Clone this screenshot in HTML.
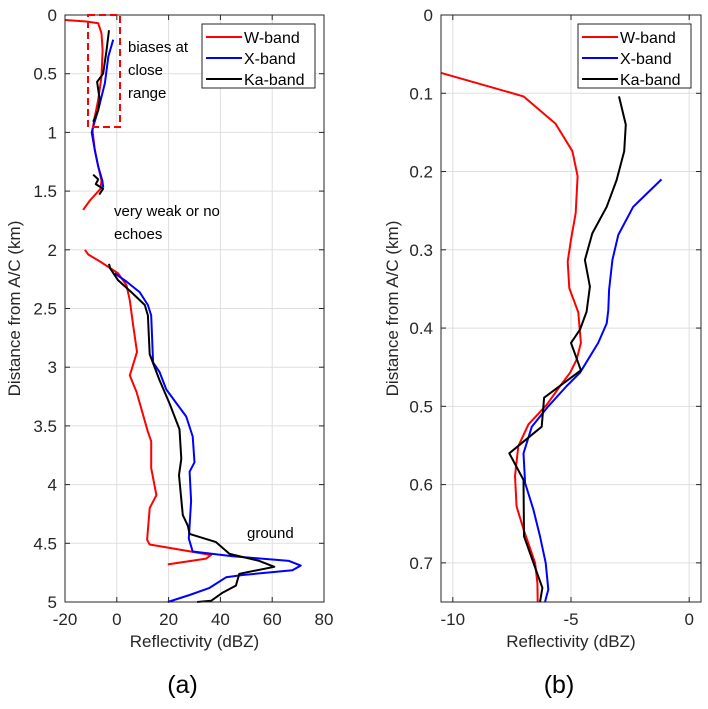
<!DOCTYPE html>
<html><head><meta charset="utf-8"><style>
body{margin:0;background:#fff;}
svg{font-family:"Liberation Sans","DejaVu Sans",sans-serif;}
</style></head><body>
<svg id="c" width="708" height="704" viewBox="0 0 708 704" xmlns="http://www.w3.org/2000/svg"></svg>
<script>
// Panel (a) data: [depth km, dBZ]
const aW1=[[0.043,-20],[0.055,-11.7],[0.07,-7.2],[0.156,-5.9],[0.298,-5.5],[0.525,-5.9],[0.724,-7.2],[0.866,-8.5],[0.98,-9.4],[1.15,-8.5],[1.29,-7.2],[1.41,-5.9],[1.48,-6.3],[1.58,-10.4],[1.66,-13]];
const aW2=[[2.0,-12.3],[2.04,-11],[2.1,-6.5],[2.2,0.5],[2.3,3.7],[2.43,5],[2.64,6.3],[2.87,7.8],[3.07,5],[3.21,7.6],[3.55,12],[3.63,13.3],[3.86,13.3],[4.09,15.3],[4.2,12.7],[4.47,11.7],[4.51,12.7],[4.6,36.4],[4.63,34.5],[4.68,19.7]];
const aX1=[[0.21,-1.4],[0.355,-3.3],[0.58,-4.6],[0.81,-7.2],[0.95,-9.1],[1.0,-9.7],[1.15,-8.5],[1.29,-7.2],[1.41,-5.6],[1.47,-5.2]];
const aX2=[[2.2,-0.8],[2.27,3.7],[2.36,8.8],[2.47,12],[2.56,13.3],[2.96,14],[3.04,16.5],[3.19,19.1],[3.42,26.8],[3.59,29.3],[3.81,30],[3.89,28.1],[4.14,28.7],[4.46,27.8],[4.57,29.3],[4.61,44.7],[4.65,66.5],[4.69,71],[4.73,67.8],[4.77,48.6],[4.79,42.2],[4.88,35.8],[4.94,28.1],[5.0,19.7]];
const aK1=[[0.13,-3],[0.31,-4],[0.5,-5.3],[0.57,-7.6],[0.72,-6.6],[0.81,-7.2],[0.91,-9.1]];
const aK2=[[1.36,-9.1],[1.4,-7.2],[1.44,-8.1],[1.48,-5.3],[1.53,-6.8]];
const aK3=[[2.12,-3],[2.16,-2.5],[2.26,0.5],[2.36,5.6],[2.47,10.8],[2.56,12],[2.89,12.7],[3.11,16.5],[3.31,20.4],[3.53,24.2],[3.78,24.9],[3.92,24],[4.26,25.5],[4.35,27.4],[4.42,28.1],[4.49,38.3],[4.59,43.5],[4.65,55],[4.7,60.8],[4.76,47.3],[4.86,46],[4.92,40.9],[4.99,36.4],[5.0,31]];
// Panel (b) data
const bW=[[0.074,-10.49],[0.104,-7.01],[0.139,-5.65],[0.174,-4.94],[0.206,-4.72],[0.253,-4.8],[0.287,-5.0],[0.315,-5.14],[0.349,-5.07],[0.38,-4.69],[0.419,-4.58],[0.44,-4.76],[0.457,-5.04],[0.474,-5.46],[0.498,-6.03],[0.523,-6.8],[0.551,-7.23],[0.589,-7.37],[0.628,-7.3],[0.657,-7.01],[0.7,-6.52],[0.726,-6.42],[0.75,-6.41]];
const bX=[[0.21,-1.17],[0.245,-2.37],[0.281,-3.0],[0.313,-3.25],[0.351,-3.39],[0.377,-3.42],[0.394,-3.49],[0.419,-3.85],[0.457,-4.62],[0.474,-5.18],[0.5,-5.96],[0.526,-6.66],[0.56,-7.01],[0.598,-6.94],[0.632,-6.59],[0.666,-6.31],[0.7,-6.07],[0.734,-5.96],[0.75,-6.1]];
const bK=[[0.104,-2.97],[0.14,-2.68],[0.174,-2.75],[0.211,-3.07],[0.245,-3.49],[0.279,-4.1],[0.313,-4.41],[0.347,-4.2],[0.379,-4.34],[0.402,-4.62],[0.419,-5.0],[0.454,-4.58],[0.489,-6.14],[0.526,-6.24],[0.56,-7.61],[0.594,-7.01],[0.666,-6.99],[0.732,-6.21],[0.75,-6.31]];
const aXTicks=[-20,0,20,40,60,80];
const aYTicks=[0,0.5,1,1.5,2,2.5,3,3.5,4,4.5,5];
const bXTicks=[-10,-5,0];
const bYTicks=[0,0.1,0.2,0.3,0.4,0.5,0.6,0.7];
const legendLabels=["W-band","X-band","Ka-band"];
const colors=["#ff0000","#0000ff","#000000"];

const NS="http://www.w3.org/2000/svg";
const svg=document.getElementById('c');
function el(t,a,p){const e=document.createElementNS(NS,t);for(const k in a)e.setAttribute(k,a[k]);(p||svg).appendChild(e);return e;}
function txt(s,a,name){const e=el('text',a);e.textContent=s;


return e;}

function panel(P){
  const sx=v=>P.L+(v-P.x0)/(P.x1-P.x0)*(P.R-P.L);
  const sy=v=>P.T+(v-P.y0)/(P.y1-P.y0)*(P.B-P.T);
  const g=el('g',{});
  
  
  el('rect',{x:P.L,y:P.T,width:P.R-P.L,height:P.B-P.T,fill:'#fff'},g);
  P.xt.forEach(v=>{const x=sx(v);
    const l=el('line',{x1:x,x2:x,y1:P.T,y2:P.B,stroke:'#dfdfdf','stroke-width':1},g);
    
    
    el('line',{x1:x,x2:x,y1:P.B,y2:P.B-5,stroke:'#262626'},g);el('line',{x1:x,x2:x,y1:P.T,y2:P.T+5,stroke:'#262626'},g);
    txt(String(v),{x:x,y:P.B+23,'text-anchor':'middle','font-size':17,fill:'#262626'},'x-tick-label');});
  P.yt.forEach(v=>{const y=sy(v);
    const l=el('line',{x1:P.L,x2:P.R,y1:y,y2:y,stroke:'#dfdfdf','stroke-width':1},g);
    
    
    el('line',{x1:P.L,x2:P.L+5,y1:y,y2:y,stroke:'#262626'},g);el('line',{x1:P.R,x2:P.R-5,y1:y,y2:y,stroke:'#262626'},g);
    txt(String(v),{x:P.L-8,y:y+6,'text-anchor':'end','font-size':17,fill:'#262626'},'y-tick-label');});
  P.series.forEach(s=>{
    const d=s.data.map((p,i)=>(i?'L':'M')+sx(p[1]).toFixed(1)+','+sy(p[0]).toFixed(1)).join('');
    const pa=el('path',{d:d,fill:'none',stroke:s.c,'stroke-width':2,'stroke-linejoin':'round'},g);
    
    
  });
  const box=el('rect',{x:P.L,y:P.T,width:P.R-P.L,height:P.B-P.T,fill:'none',stroke:'#262626','stroke-width':1},g);
  
  
  txt('Reflectivity (dBZ)',{x:(P.L+P.R)/2,y:P.B+28+17,'text-anchor':'middle','font-size':17,fill:'#262626'},'x-axis-title');
  txt('Distance from A/C (km)',{x:0,y:0,transform:`translate(${P.yl},${(P.T+P.B)/2}) rotate(-90)`,'text-anchor':'middle','font-size':17,fill:'#262626'},'y-axis-title');
  const lg=el('g',{});
  
  
  el('rect',{x:P.lx,y:24,width:113,height:64,fill:'#fff',stroke:'#262626','stroke-width':1},lg);
  legendLabels.forEach((t,i)=>{const y=37+i*21;
    el('line',{x1:P.lx+4,x2:P.lx+40,y1:y,y2:y,stroke:colors[i],'stroke-width':2},lg);
    txt(t,{x:P.lx+42,y:y+6,'font-size':16,fill:'#000'},'legend-entry');});
  txt(P.cap,{x:(P.L+P.R)/2-12,y:693,'text-anchor':'middle','font-size':25,fill:'#000'},'panel-caption');
  return {sx,sy};
}
panel({id:'panel-a',L:65,R:324,T:15,B:602,x0:-20,x1:80,y0:0,y1:5,xt:aXTicks,yt:aYTicks,yl:20,lx:202,cap:'(a)',
 series:[{data:aW1,c:colors[0],n:'w-band-line'},{data:aW2,c:colors[0],n:'w-band-line'},{data:aX1,c:colors[1],n:'x-band-line'},{data:aX2,c:colors[1],n:'x-band-line'},{data:aK1,c:colors[2],n:'ka-band-line'},{data:aK2,c:colors[2],n:'ka-band-line'},{data:aK3,c:colors[2],n:'ka-band-line'}]});
panel({id:'panel-b',L:441,R:701,T:15,B:602,x0:-10.5,x1:0.5,y0:0,y1:0.75,xt:bXTicks,yt:bYTicks,yl:398,lx:578,cap:'(b)',
 series:[{data:bW,c:colors[0],n:'w-band-line'},{data:bX,c:colors[1],n:'x-band-line'},{data:bK,c:colors[2],n:'ka-band-line'}]});
const r=el('rect',{x:88,y:15,width:32,height:112,fill:'none',stroke:'#ff0000','stroke-width':2,'stroke-dasharray':'7,4'});


const ann=[['biases at',128,52],['close',128,75],['range',128,98],['very weak or no',114,216],['echoes',114,239],['ground',247,538]];
ann.forEach(a=>txt(a[0],{x:a[1],y:a[2],'font-size':15,fill:'#000'},'annotation'));
</script>
</body></html>
